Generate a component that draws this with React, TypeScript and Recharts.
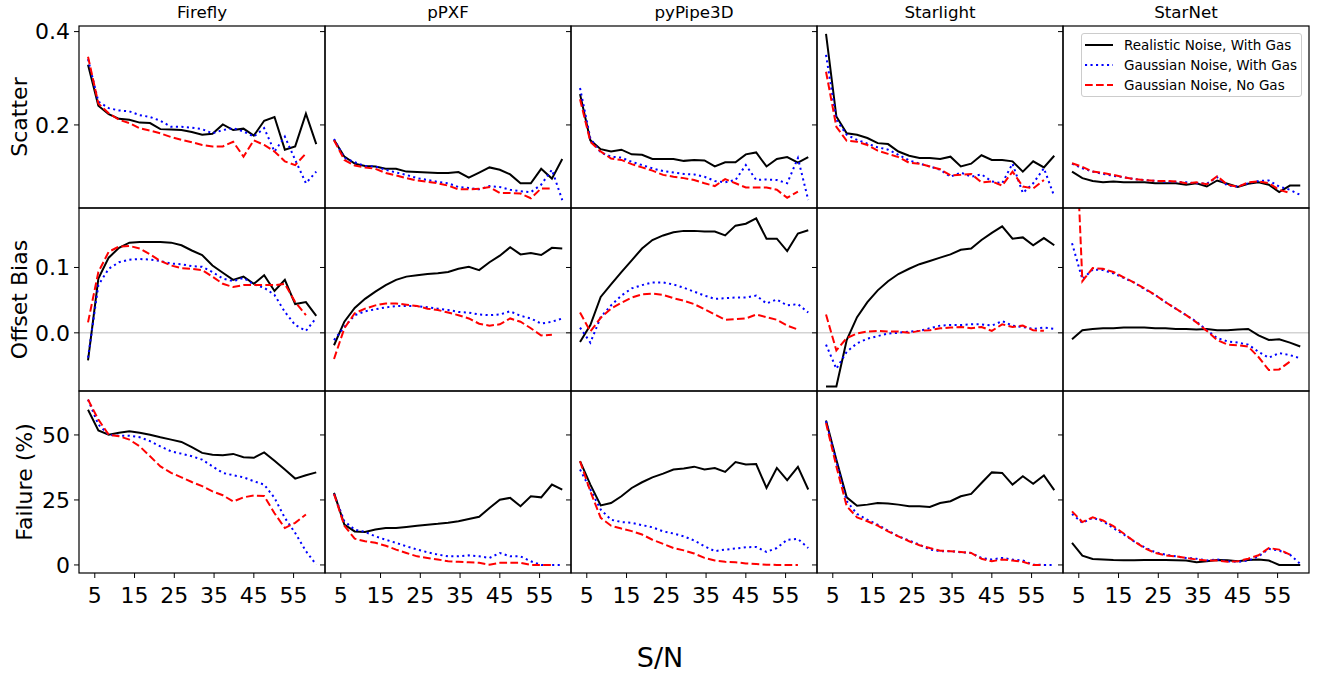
import { LineChart, Line, XAxis, YAxis, ReferenceLine, Legend } from 'recharts';

const FONT = '"DejaVu Sans", Verdana, sans-serif';

// S/N bin centres (x values shared by every panel)
const SN = [3.3, 5.9, 8.5, 11.1, 13.7, 16.3, 18.9, 21.5, 24.2, 26.8, 29.4, 32.0, 34.6, 37.2, 39.8, 42.4, 45.0, 47.6, 50.2, 52.8, 55.4, 58.1, 60.7];
const METHODS = ['Firefly', 'pPXF', 'pyPipe3D', 'Starlight', 'StarNet'];
const X_TICKS = [5, 15, 25, 35, 45, 55];
const SCATTER_TICKS = [0.2, 0.4];
const BIAS_TICKS = [0.0, 0.1];
const FAILURE_TICKS = [0, 25, 50];

// ---- Scatter ----
const scatterFireflyReal = [0.329, 0.241, 0.223, 0.213, 0.211, 0.205, 0.204, 0.191, 0.190, 0.189, 0.185, 0.179, 0.181, 0.201, 0.189, 0.192, 0.177, 0.209, 0.217, 0.147, 0.154, 0.224, 0.159];
const scatterFireflyGauss = [0.341, 0.250, 0.236, 0.231, 0.229, 0.221, 0.217, 0.209, 0.196, 0.196, 0.194, 0.191, 0.182, 0.189, 0.193, 0.186, 0.175, 0.193, 0.143, 0.175, 0.125, 0.075, 0.100];
const scatterFireflyNoGas = [0.346, 0.246, 0.225, 0.211, 0.204, 0.193, 0.188, 0.182, 0.174, 0.168, 0.163, 0.157, 0.154, 0.154, 0.164, 0.132, 0.167, 0.157, 0.143, 0.122, 0.114, 0.139];

const scatterPpxfReal = [0.168, 0.132, 0.117, 0.112, 0.111, 0.106, 0.106, 0.100, 0.099, 0.098, 0.097, 0.097, 0.099, 0.087, 0.098, 0.109, 0.104, 0.094, 0.075, 0.075, 0.106, 0.085, 0.127];
const scatterPpxfGauss = [0.170, 0.129, 0.120, 0.112, 0.111, 0.104, 0.098, 0.093, 0.086, 0.082, 0.078, 0.075, 0.067, 0.065, 0.062, 0.069, 0.067, 0.061, 0.058, 0.056, 0.072, 0.104, 0.039];
const scatterPpxfNoGas = [0.167, 0.125, 0.113, 0.109, 0.106, 0.097, 0.092, 0.086, 0.081, 0.078, 0.075, 0.070, 0.062, 0.062, 0.063, 0.067, 0.054, 0.054, 0.053, 0.043, 0.064, 0.064];

const scatterPipe3dReal = [0.266, 0.167, 0.148, 0.143, 0.147, 0.137, 0.136, 0.127, 0.127, 0.127, 0.123, 0.125, 0.124, 0.111, 0.120, 0.120, 0.137, 0.141, 0.111, 0.127, 0.131, 0.119, 0.131];
const scatterPipe3dGauss = [0.279, 0.171, 0.141, 0.132, 0.130, 0.121, 0.114, 0.107, 0.101, 0.098, 0.095, 0.094, 0.089, 0.080, 0.077, 0.082, 0.114, 0.082, 0.083, 0.082, 0.075, 0.129, 0.039];
const scatterPipe3dNoGas = [0.255, 0.164, 0.143, 0.128, 0.125, 0.116, 0.109, 0.102, 0.093, 0.089, 0.086, 0.082, 0.075, 0.069, 0.084, 0.075, 0.066, 0.066, 0.066, 0.061, 0.044, 0.057];

const scatterStarlightReal = [0.395, 0.218, 0.182, 0.179, 0.172, 0.161, 0.159, 0.143, 0.134, 0.129, 0.129, 0.127, 0.132, 0.111, 0.117, 0.135, 0.125, 0.125, 0.122, 0.100, 0.122, 0.109, 0.134];
const scatterStarlightGauss = [0.350, 0.211, 0.179, 0.168, 0.160, 0.152, 0.147, 0.136, 0.124, 0.117, 0.111, 0.104, 0.089, 0.098, 0.089, 0.094, 0.079, 0.075, 0.117, 0.054, 0.075, 0.107, 0.047];
const scatterStarlightNoGas = [0.314, 0.196, 0.166, 0.164, 0.157, 0.145, 0.138, 0.131, 0.119, 0.117, 0.111, 0.105, 0.092, 0.093, 0.095, 0.077, 0.079, 0.070, 0.100, 0.068, 0.064, 0.082];

const scatterStarnetReal = [0.100, 0.086, 0.080, 0.077, 0.079, 0.077, 0.077, 0.077, 0.075, 0.075, 0.075, 0.072, 0.075, 0.068, 0.081, 0.074, 0.067, 0.074, 0.077, 0.072, 0.056, 0.070, 0.070];
const scatterStarnetGauss = [0.117, 0.107, 0.100, 0.095, 0.091, 0.088, 0.084, 0.082, 0.080, 0.078, 0.078, 0.077, 0.075, 0.074, 0.088, 0.070, 0.068, 0.075, 0.080, 0.081, 0.068, 0.061, 0.050];
const scatterStarnetNoGas = [0.118, 0.110, 0.100, 0.097, 0.093, 0.088, 0.084, 0.082, 0.080, 0.080, 0.079, 0.075, 0.077, 0.073, 0.090, 0.072, 0.067, 0.077, 0.079, 0.075, 0.061, 0.054];

// ---- Offset bias ----
const biasFireflyReal = [-0.042, 0.083, 0.115, 0.130, 0.138, 0.139, 0.139, 0.139, 0.138, 0.134, 0.126, 0.119, 0.103, 0.092, 0.081, 0.086, 0.075, 0.088, 0.064, 0.081, 0.044, 0.047, 0.026];
const biasFireflyGauss = [-0.038, 0.073, 0.098, 0.108, 0.112, 0.113, 0.112, 0.110, 0.106, 0.105, 0.102, 0.101, 0.093, 0.083, 0.079, 0.084, 0.074, 0.069, 0.058, 0.032, 0.012, 0.003, 0.023];
const biasFireflyNoGas = [0.016, 0.093, 0.124, 0.132, 0.133, 0.129, 0.120, 0.110, 0.103, 0.099, 0.098, 0.096, 0.086, 0.075, 0.070, 0.073, 0.073, 0.073, 0.073, 0.075, 0.047, 0.027];

const biasPpxfReal = [-0.019, 0.017, 0.038, 0.052, 0.063, 0.073, 0.081, 0.086, 0.088, 0.090, 0.091, 0.093, 0.098, 0.101, 0.096, 0.108, 0.118, 0.131, 0.120, 0.122, 0.119, 0.130, 0.129];
const biasPpxfGauss = [-0.011, 0.009, 0.027, 0.033, 0.036, 0.039, 0.041, 0.041, 0.041, 0.039, 0.037, 0.035, 0.032, 0.031, 0.028, 0.027, 0.028, 0.033, 0.026, 0.022, 0.014, 0.017, 0.022];
const biasPpxfNoGas = [-0.040, 0.007, 0.030, 0.037, 0.042, 0.045, 0.045, 0.043, 0.041, 0.037, 0.035, 0.031, 0.027, 0.022, 0.014, 0.011, 0.013, 0.022, 0.017, 0.007, -0.004, -0.003];

const biasPipe3dReal = [-0.014, 0.012, 0.055, 0.074, 0.093, 0.111, 0.129, 0.142, 0.149, 0.154, 0.156, 0.156, 0.155, 0.155, 0.149, 0.164, 0.167, 0.175, 0.144, 0.144, 0.125, 0.152, 0.157];
const biasPipe3dGauss = [0.008, -0.015, 0.024, 0.042, 0.057, 0.068, 0.073, 0.077, 0.077, 0.074, 0.069, 0.063, 0.057, 0.052, 0.053, 0.054, 0.054, 0.057, 0.045, 0.051, 0.042, 0.044, 0.031];
const biasPipe3dNoGas = [0.031, 0.002, 0.023, 0.037, 0.046, 0.054, 0.059, 0.060, 0.058, 0.053, 0.049, 0.044, 0.036, 0.028, 0.020, 0.021, 0.022, 0.028, 0.024, 0.020, 0.011, 0.005];

const biasStarlightReal = [-0.082, -0.082, -0.011, 0.024, 0.047, 0.065, 0.079, 0.090, 0.098, 0.105, 0.110, 0.115, 0.120, 0.127, 0.129, 0.142, 0.153, 0.163, 0.144, 0.146, 0.134, 0.145, 0.134];
const biasStarlightGauss = [-0.018, -0.055, -0.029, -0.016, -0.009, -0.005, -0.001, 0.000, 0.002, 0.003, 0.007, 0.011, 0.012, 0.012, 0.013, 0.013, 0.011, 0.018, 0.011, 0.009, 0.006, 0.008, 0.006];
const biasStarlightNoGas = [0.028, -0.027, -0.008, -0.001, 0.002, 0.003, 0.002, 0.002, 0.000, 0.003, 0.004, 0.007, 0.008, 0.009, 0.007, 0.009, 0.003, 0.013, 0.009, 0.011, 0.004, 0.003];

const biasStarnetReal = [-0.010, 0.004, 0.006, 0.007, 0.007, 0.008, 0.008, 0.008, 0.007, 0.007, 0.006, 0.006, 0.005, 0.006, 0.004, 0.004, 0.005, 0.006, -0.004, -0.011, -0.010, -0.015, -0.021];
const biasStarnetGauss = [0.137, 0.082, 0.097, 0.096, 0.091, 0.084, 0.077, 0.067, 0.058, 0.047, 0.037, 0.027, 0.017, 0.004, -0.008, -0.013, -0.015, -0.018, -0.029, -0.038, -0.031, -0.034, -0.039];
const biasStarnetNoGas = [0.45, 0.079, 0.099, 0.098, 0.093, 0.085, 0.077, 0.068, 0.058, 0.047, 0.037, 0.027, 0.016, 0.003, -0.011, -0.018, -0.019, -0.021, -0.037, -0.057, -0.056, -0.044];

// ---- Failure (%) ----
const failFireflyReal = [59.7, 51.7, 50.1, 50.8, 51.4, 50.8, 50.1, 49.1, 48.2, 47.3, 45.3, 43.1, 42.4, 42.2, 42.7, 41.4, 41.2, 43.3, 40.1, 36.7, 33.2, 34.5, 35.6];
const failFireflyGauss = [63.6, 54.0, 50.1, 49.7, 49.7, 49.1, 47.6, 45.6, 43.7, 42.8, 41.8, 40.5, 37.9, 35.4, 34.5, 33.7, 32.2, 30.9, 25.8, 18.1, 12.3, 5.3, 0.1];
const failFireflyNoGas = [63.6, 55.9, 50.1, 49.5, 48.2, 45.6, 41.8, 37.9, 35.4, 33.7, 31.9, 30.3, 28.3, 26.8, 24.4, 26.0, 26.7, 26.5, 19.9, 14.2, 16.2, 19.4];

const failPpxfReal = [27.7, 15.5, 12.9, 12.7, 13.6, 14.2, 14.2, 14.6, 15.1, 15.5, 15.8, 16.2, 16.8, 17.7, 18.5, 21.9, 25.1, 25.8, 22.6, 26.4, 26.0, 30.9, 29.0];
const failPpxfGauss = [27.3, 16.8, 13.6, 12.7, 11.0, 9.7, 8.5, 7.2, 5.9, 4.9, 4.0, 3.3, 3.3, 3.7, 3.3, 2.7, 4.6, 3.3, 3.3, 1.4, 0, 0, 0];
const failPpxfNoGas = [27.3, 15.1, 10.1, 9.1, 8.5, 7.4, 5.9, 4.6, 3.3, 2.7, 2.1, 1.4, 1.2, 1.0, 0.8, 0.1, 0.8, 0.8, 0.8, 0, 0, 0];

const failPipe3dReal = [39.9, 30.9, 22.9, 23.8, 26.4, 29.6, 31.8, 33.7, 35.1, 36.7, 37.1, 37.8, 36.7, 37.3, 35.8, 39.6, 38.6, 38.8, 29.6, 37.3, 32.6, 37.7, 29.0];
const failPipe3dGauss = [36.7, 29.0, 21.3, 17.4, 16.5, 16.2, 15.3, 14.5, 12.9, 12.1, 11.0, 9.4, 7.2, 5.3, 5.9, 6.3, 6.8, 6.9, 5.0, 6.5, 9.7, 10.0, 6.5];
const failPipe3dNoGas = [39.9, 28.3, 18.1, 15.1, 14.0, 13.0, 11.7, 9.7, 8.1, 6.5, 5.6, 4.4, 2.7, 1.7, 1.2, 1.0, 0.6, 0.4, 0.1, 0, 0, 0];

const failStarlightReal = [55.6, 40.5, 26.0, 22.8, 23.2, 23.8, 23.6, 23.2, 22.6, 22.6, 22.3, 23.8, 24.5, 26.4, 27.3, 31.5, 35.6, 35.4, 30.9, 34.1, 31.2, 34.4, 28.8];
const failStarlightGauss = [55.3, 39.9, 24.5, 19.6, 17.4, 15.5, 13.2, 11.0, 9.4, 7.8, 5.9, 5.3, 5.3, 4.9, 4.6, 2.7, 2.1, 2.7, 2.1, 1.7, 0.1, 0, 0];
const failStarlightNoGas = [54.6, 37.9, 22.6, 18.3, 16.8, 15.1, 12.9, 11.0, 9.1, 7.6, 6.5, 5.5, 5.3, 5.0, 4.6, 2.4, 1.4, 2.1, 1.7, 1.2, 0, 0];

const failStarnetReal = [8.5, 3.6, 2.3, 2.1, 1.9, 1.8, 1.8, 1.9, 1.9, 1.9, 1.8, 1.7, 1.0, 1.4, 1.9, 1.8, 1.4, 1.9, 2.1, 1.7, 0, 0, 0];
const failStarnetGauss = [19.6, 16.2, 18.1, 16.8, 14.2, 11.7, 9.1, 6.8, 4.9, 4.0, 3.3, 2.7, 2.4, 1.7, 2.1, 1.4, 1.2, 1.7, 3.3, 6.2, 5.5, 4.0, 0.4];
const failStarnetNoGas = [20.6, 16.5, 18.3, 17.1, 14.9, 12.1, 9.1, 6.5, 4.6, 3.7, 3.3, 2.7, 2.1, 1.7, 1.7, 1.2, 1.4, 2.4, 3.7, 6.5, 5.9, 4.0];

const SERIES = [
  { key: 'real', label: 'Realistic Noise, With Gas', color: '#000000', dash: undefined as string | undefined },
  { key: 'gauss', label: 'Gaussian Noise, With Gas', color: '#0000ff', dash: '2.1 3.4' },
  { key: 'noGas', label: 'Gaussian Noise, No Gas', color: '#ff0000', dash: '7.7 3.3' },
];

const ROWS = [
  {
    label: 'Scatter', labelX: 27, domain: [0.022, 0.412], ticks: SCATTER_TICKS, zero: false,
    fmt: (v: number) => v.toFixed(1),
    panels: [
      [scatterFireflyReal, scatterFireflyGauss, scatterFireflyNoGas],
      [scatterPpxfReal, scatterPpxfGauss, scatterPpxfNoGas],
      [scatterPipe3dReal, scatterPipe3dGauss, scatterPipe3dNoGas],
      [scatterStarlightReal, scatterStarlightGauss, scatterStarlightNoGas],
      [scatterStarnetReal, scatterStarnetGauss, scatterStarnetNoGas],
    ],
  },
  {
    label: 'Offset Bias', labelX: 27, domain: [-0.089, 0.191], ticks: BIAS_TICKS, zero: true,
    fmt: (v: number) => v.toFixed(1),
    panels: [
      [biasFireflyReal, biasFireflyGauss, biasFireflyNoGas],
      [biasPpxfReal, biasPpxfGauss, biasPpxfNoGas],
      [biasPipe3dReal, biasPipe3dGauss, biasPipe3dNoGas],
      [biasStarlightReal, biasStarlightGauss, biasStarlightNoGas],
      [biasStarnetReal, biasStarnetGauss, biasStarnetNoGas],
    ],
  },
  {
    label: 'Failure (%)', labelX: 32, domain: [-3.1, 66.9], ticks: FAILURE_TICKS, zero: false,
    fmt: (v: number) => String(v),
    panels: [
      [failFireflyReal, failFireflyGauss, failFireflyNoGas],
      [failPpxfReal, failPpxfGauss, failPpxfNoGas],
      [failPipe3dReal, failPipe3dGauss, failPipe3dNoGas],
      [failStarlightReal, failStarlightGauss, failStarlightNoGas],
      [failStarnetReal, failStarnetGauss, failStarnetNoGas],
    ],
  },
];

// layout (page pixels)
const COL_X = [79, 325, 571, 817, 1063];
const PANEL_W = 246;
const ROW_Y = [26, 208, 391];
const ROW_H = [182, 183, 182];
const AXIS_W = 60;
const AXIS_H = 50;
const PAD_TOP = 20; // room above each panel so edge tick labels are not clipped
const X_DOMAIN: [number, number] = [1.03, 62.9];

const tickStyle = { fontSize: 22, fill: '#000', fontFamily: FONT };

function LegendBox() {
  return (
    <div style={{ position: 'relative', width: 221, height: 64, boxSizing: 'border-box', border: '1px solid #cccccc', borderRadius: 3, background: 'rgba(255,255,255,0.8)', fontFamily: FONT }}>
      {SERIES.map((s, i) => (
        <div key={s.key} style={{ position: 'absolute', left: 3, top: 1 + i * 20, height: 20, display: 'flex', alignItems: 'center', whiteSpace: 'nowrap' }}>
          <svg width={28} height={4} style={{ display: 'block' }}>
            <line x1={0} x2={28} y1={2} y2={2} stroke={s.color} strokeWidth={2} strokeDasharray={s.dash} />
          </svg>
          <span style={{ marginLeft: 11, fontSize: 13.5, color: '#000' }}>{s.label}</span>
        </div>
      ))}
    </div>
  );
}

function Panel({ r, c }: { r: number; c: number }) {
  const row = ROWS[r];
  const [real, gauss, noGas] = row.panels[c];
  const data = SN.map((sn, i) => ({ sn, real: real[i] ?? null, gauss: gauss[i] ?? null, noGas: noGas[i] ?? null }));
  const bottom = r === 2;
  const chartLeft = COL_X[c] - AXIS_W;
  const chartTop = ROW_Y[r] - PAD_TOP;
  return (
    <div style={{ position: 'absolute', left: chartLeft, top: chartTop }}>
      <LineChart width={PANEL_W + AXIS_W} height={PAD_TOP + ROW_H[r] + (bottom ? AXIS_H : 0)} data={data} margin={{ top: PAD_TOP, right: 0, bottom: 0, left: 0 }}>
        <XAxis
          dataKey="sn" type="number" domain={X_DOMAIN} allowDataOverflow ticks={X_TICKS} interval={0}
          hide={!bottom} height={AXIS_H} tickSize={5} tickMargin={9}
          axisLine={false} tickLine={{ stroke: '#000', strokeWidth: 1 }} tick={tickStyle}
        />
        <YAxis
          type="number" domain={row.domain} allowDataOverflow ticks={row.ticks} interval={0}
          width={AXIS_W} tickSize={5} tickMargin={4}
          tickFormatter={c === 0 ? row.fmt : () => ''}
          axisLine={false} tickLine={{ stroke: '#000', strokeWidth: 1 }} tick={tickStyle}
        />
        {row.zero && <ReferenceLine y={0} stroke="#d3d3d3" strokeWidth={1.5} />}
        {SERIES.map((s) => (
          <Line key={s.key} type="linear" dataKey={s.key} stroke={s.color} strokeWidth={2} strokeDasharray={s.dash} dot={false} isAnimationActive={false} />
        ))}
        {r === 0 && c === 4 && (
          <Legend
            layout="vertical" align="center" verticalAlign="middle"
            wrapperStyle={{ left: 1081 - chartLeft, top: 33 - chartTop, width: 221, height: 64 }}
            content={() => <LegendBox />}
          />
        )}
      </LineChart>
    </div>
  );
}

export default function App() {
  return (
    <div style={{ position: 'absolute', left: 0, top: 0, width: 1320, height: 673, background: '#fff', fontFamily: FONT, overflow: 'hidden' }}>
      {ROWS.map((_, r) => METHODS.map((__, c) => <Panel key={`${r}-${c}`} r={r} c={c} />))}
      <svg width={1320} height={673} style={{ position: 'absolute', left: 0, top: 0, pointerEvents: 'none' }}>
        {ROWS.map((_, r) => COL_X.map((x, c) => (
          <rect key={`b${r}-${c}`} x={x} y={ROW_Y[r]} width={PANEL_W} height={ROW_H[r]} fill="none" stroke="#000" strokeWidth={1.2} />
        )))}
        {METHODS.map((m, c) => (
          <text key={m} x={COL_X[c] + PANEL_W / 2} y={18} textAnchor="middle" fontSize={16.7} fontFamily={FONT} fill="#000">{m}</text>
        ))}
        {ROWS.map((row, r) => {
          const cy = ROW_Y[r] + ROW_H[r] / 2;
          return (
            <text key={row.label} transform={`translate(${row.labelX},${cy}) rotate(-90)`} textAnchor="middle" fontSize={22} fontFamily={FONT} fill="#000">{row.label}</text>
          );
        })}
        <text x={660} y={667} textAnchor="middle" fontSize={27} fontFamily={FONT} fill="#000">S/N</text>
      </svg>
    </div>
  );
}
